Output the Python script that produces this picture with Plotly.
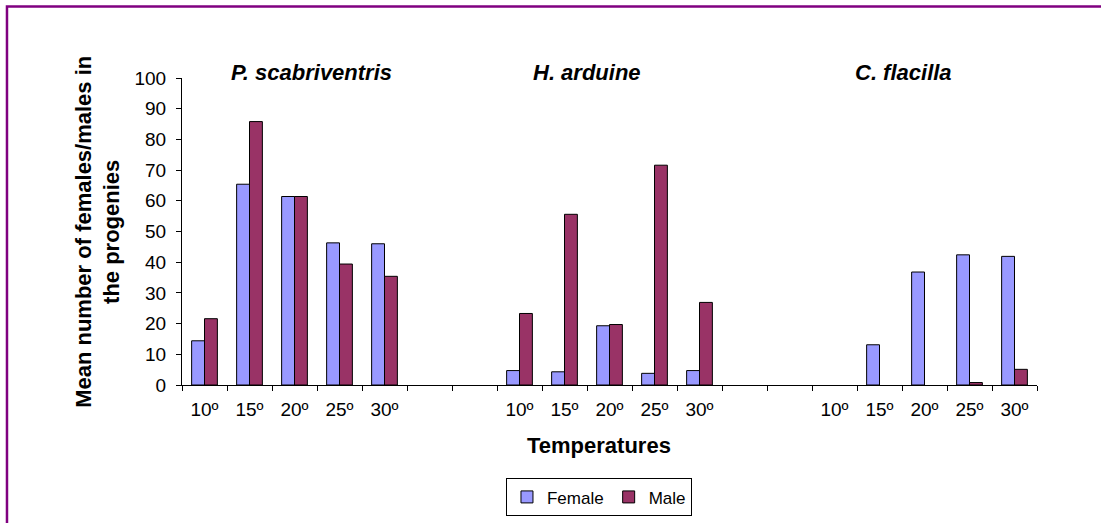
import plotly.graph_objects as go

# Temperature classes per species, with two empty slots separating the species groups
temps = ["10º", "15º", "20º", "25º", "30º"]
species = ["P. scabriventris", "H. arduine", "C. flacilla"]

# Mean number of females / males in the progenies (None = no individuals)
female_p = [14.4, 65.4, 61.4, 46.3, 46.0]
male_p = [21.6, 85.8, 61.4, 39.4, 35.4]
female_h = [4.7, 4.3, 19.3, 3.8, 4.7]
male_h = [23.3, 55.6, 19.7, 71.6, 26.9]
female_c = [None, 13.1, 36.8, 42.4, 41.9]
male_c = [None, None, None, 0.8, 5.1]

GAP = [None, None]
female = female_p + GAP + female_h + GAP + female_c
male = male_p + GAP + male_h + GAP + male_c
xpos = list(range(len(female)))
tick_vals = [i for i in xpos if i % 7 < 5]
tick_text = [temps[i % 7] for i in tick_vals]
title_pos = [2.37, 8.5, 15.54]

FONT = "Liberation Sans, Arial, sans-serif"

fig = go.Figure()
fig.add_trace(go.Bar(x=xpos, y=female, name="Female",
                     marker=dict(color="#9999FF", line=dict(color="black", width=1))))
fig.add_trace(go.Bar(x=xpos, y=male, name="Male",
                     marker=dict(color="#993366", line=dict(color="black", width=1))))

fig.update_layout(
    width=1101, height=523,
    margin=dict(l=182, r=64, t=78, b=138, autoexpand=False),
    paper_bgcolor="white", plot_bgcolor="white",
    barmode="group", bargap=0.4286, bargroupgap=0,
    font=dict(family=FONT, color="black"),
    showlegend=True,
    legend=dict(orientation="h", x=0.4877, xanchor="center", y=-0.366, yanchor="middle",
                bordercolor="black", borderwidth=1, font=dict(size=17),
                bgcolor="white", itemwidth=30),
)

fig.update_xaxes(
    range=[-0.5, len(female) - 0.5],
    tickmode="array", tickvals=tick_vals, ticktext=tick_text,
    ticks="", tickfont=dict(size=19), ticklabelstandoff=7,
    showline=True, linecolor="black", linewidth=1,
    showgrid=False, zeroline=False,
    minor=dict(ticks="outside", ticklen=5, tick0=-0.5, dtick=1,
               tickcolor="black", showgrid=False),
)
fig.update_yaxes(
    range=[0, 100], dtick=10, ticks="outside", ticklen=5, tickcolor="black",
    tickfont=dict(size=19), ticklabelstandoff=6,
    showline=True, linecolor="black", linewidth=1,
    showgrid=False, zeroline=False,
)

for name, xp in zip(species, title_pos):
    fig.add_annotation(x=xp, xref="x", y=1.0186, yref="paper",
                       text=f"<b><i>{name}</i></b>", showarrow=False,
                       font=dict(size=22), xanchor="center", yanchor="middle")

fig.add_annotation(x=0.4877, y=-0.1985, xref="paper", yref="paper",
                   text="<b>Temperatures</b>", showarrow=False,
                   font=dict(size=22), xanchor="center", yanchor="middle")
fig.add_annotation(x=-0.099, y=0.5, xref="paper", yref="paper",
                   text="<b>Mean number of females/males in<br>the progenies</b>",
                   showarrow=False, textangle=-90, font=dict(size=22),
                   xanchor="center", yanchor="middle")

# Purple frame around the chart area
fig.add_shape(type="rect", xref="paper", yref="paper",
              x0=-0.2047, x1=1.3, y0=-0.6, y1=1.2333,
              line=dict(color="#800080", width=2.5), layer="below")

fig.write_html("out.html")
